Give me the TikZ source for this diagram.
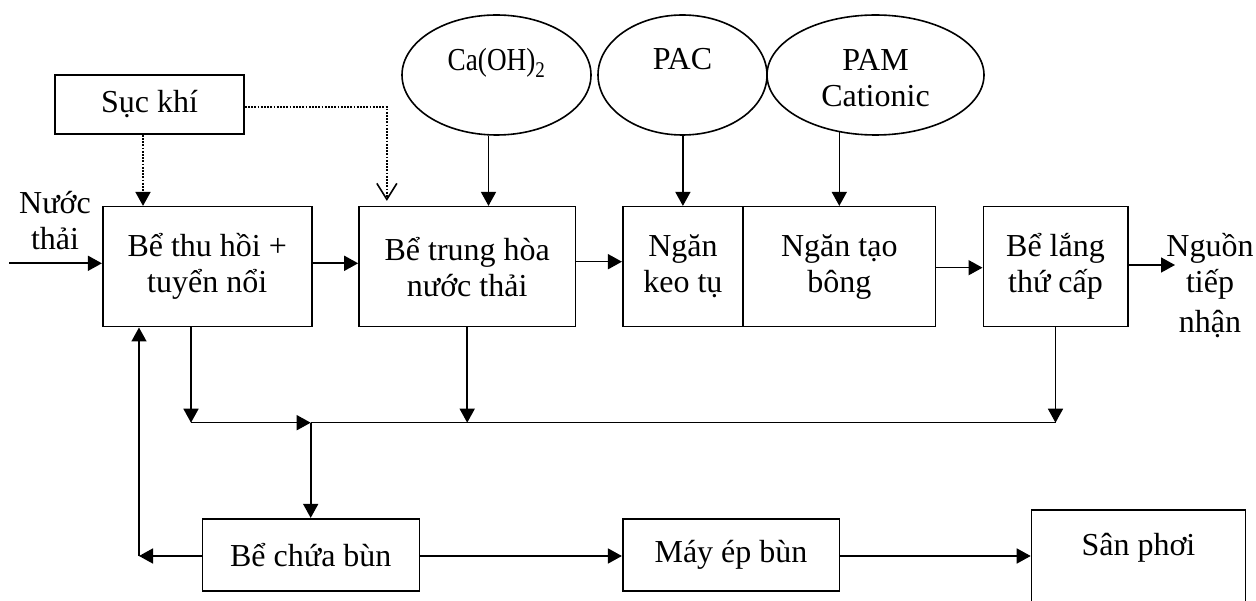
\documentclass[tikz,border=0pt]{standalone}
\usepackage{fontspec}
\setmainfont{Liberation Serif}
\usepackage{graphicx}
\usetikzlibrary{arrows.meta,shapes.geometric}
\begin{document}
\begin{tikzpicture}[x=1pt,y=-1pt,
  every node/.style={font=\fontsize{32}{36}\selectfont},
  box/.style={draw,line width=1.6pt,inner sep=0pt,align=center},
  oval/.style={draw,ellipse,line width=1.6pt,inner sep=0pt},
  txt/.style={inner sep=0pt,align=center},
  arr/.style={line width=1.6pt,-{Triangle[length=14pt,width=15pt]}},
  dotarr/.style={line width=1.7pt,dash pattern=on 1.7pt off 1.5pt,-{Triangle[length=14pt,width=15pt]}},
  dotopen/.style={line width=1.7pt,dash pattern=on 1.7pt off 1.5pt,-{Straight Barb[length=16pt,width=20pt,line width=1.6pt]}},
]
\clip (0,0) rectangle (1256,601);
\fill[white] (0,0) rectangle (1256,601);

% boxes
\node[box,minimum width=189pt,minimum height=59.3pt] (suc) at (149.5,104.4) {Sục khí};
\node[box,minimum width=209pt,minimum height=120pt] (b1) at (207.2,266.7) {Bể thu hồi +\\tuyển nổi};
\node[box,minimum width=216.5pt,minimum height=120pt] (b2) at (467.2,266.7) {Bể trung hòa\\nước thải};
\node[box,minimum width=120.3pt,minimum height=120pt] (keo) at (682.9,266.7) {Ngăn\\keo tụ};
\node[box,minimum width=192.5pt,minimum height=120pt] (bong) at (839.3,266.7) {Ngăn tạo\\bông};
\node[box,minimum width=144.4pt,minimum height=120pt] (lang) at (1055.5,266.7) {Bể lắng\\thứ cấp};
\node[box,minimum width=217pt,minimum height=72pt] (chua) at (310.8,554.7) {Bể chứa bùn};
\node[box,minimum width=216.6pt,minimum height=72pt] (may) at (731,554.7) {Máy ép bùn};
\node[box,anchor=north,minimum width=213.8pt,text height=46pt,text depth=90pt] (san) at (1138.4,509) {Sân phơi};

% ellipses
\node[oval,minimum width=189pt,minimum height=120pt] (ca) at (496.5,75) {};
\node[oval,minimum width=169pt,minimum height=120pt] (pac) at (682.5,75) {};
\node[oval,minimum width=217pt,minimum height=120pt] (pam) at (875.5,75) {};
\node[txt,anchor=base] (catx) at (496.5,71) {\scalebox{0.85}[1]{Ca(OH)\textsubscript{2}}};
\node[txt,anchor=base] (pactx) at (682.5,70) {PAC};
\node[txt] (pamtx) at (875.5,78.5) {PAM\\Cationic};

% free texts
\node[txt] (nuoc) at (55,221) {Nước\\thải};
\node[txt] (nguon) at (1210,286) {Nguồn\\tiếp\\[4pt]nhận};

% coordinates
\coordinate (src) at (9,263.3);
\coordinate (dst) at (1175,265);
\coordinate (j1) at (191,422.7);
\coordinate (j2) at (310.7,422.7);
\coordinate (j4) at (1055.5,422.7);
\coordinate (j5) at (139,556);

% main flow
\draw[arr] (src) -- (src -| b1.west);
\draw[arr] ([yshift=3.4pt]b1.east) -- ([yshift=3.4pt]b1.east -| b2.west);
\draw[arr] ([yshift=5pt]b2.east) -- ([yshift=5pt]b2.east -| keo.west);
\draw[arr] ([yshift=-1pt]bong.east) -- ([yshift=-1pt]lang.west);
\draw[arr] (lang.east |- dst) -- (dst);

% aeration (dotted)
\draw[dotarr] ([xshift=-6.5pt]suc.south) -- ([xshift=-6.5pt]suc.south |- b1.north);
\draw[dotopen,shorten >=5pt] ([yshift=-2.3pt]suc.east) -| ([xshift=28.7pt]b2.north west);

% chemicals
\draw[arr] ([xshift=-8pt]ca.south) -- ([xshift=-8pt]ca.south |- b2.north);
\draw[arr] (pac.south -| keo.north) -- (keo.north);
\draw[arr] ([yshift=3.4pt]pam.south -| bong.north) -- (bong.north);

% sludge lines
\draw[arr] (b1.south -| j1) -- (j1);
\draw[arr] (j1) -- (j2);
\draw[line width=1.6pt] (j2) -- (j4);
\draw[arr] (b2.south) -- (b2.south |- j2);
\draw[arr] (lang.south) -- (j4);
\draw[arr] (j2) -- (j2 |- chua.north);
\draw[arr] (chua.west |- j5) -- (j5);
\draw[arr] (j5) -- (j5 |- b1.south);
\draw[arr] (chua.east |- j5) -- (j5 -| may.west);
\draw[arr] (may.east |- j5) -- (j5 -| san.west);
\end{tikzpicture}
\end{document}
